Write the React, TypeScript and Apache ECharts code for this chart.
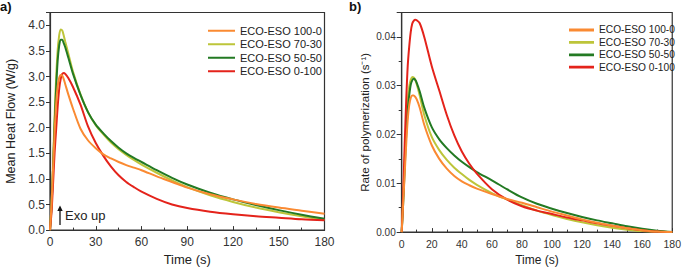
import React, { useEffect, useRef } from "react";
import * as echarts from "echarts";

const seriesNames = ["ECO-ESO 100-0", "ECO-ESO 70-30", "ECO-ESO 50-50", "ECO-ESO 0-100"];
const colors = ["#FA8A32", "#BDC53A", "#237A23", "#E4231B"];

// Panel a) Mean heat flow (W/g)
const timeA = [0, 1, 2, 3, 4, 5, 6, 7, 8, 9, 10, 12, 15, 20, 25, 30, 35, 40, 45, 50, 55, 60, 70, 80, 90, 105, 120, 135, 150, 165, 180];
const heat100_0 = [0, 0.5, 1.2, 1.9, 2.45, 2.8, 2.97, 3.03, 3.02, 2.95, 2.85, 2.65, 2.38, 1.98, 1.75, 1.6, 1.48, 1.4, 1.33, 1.27, 1.22, 1.17, 1.05, 0.94, 0.83, 0.7, 0.6, 0.51, 0.44, 0.38, 0.32];
const heat70_30 = [0, 0.5, 1.3, 2.2, 2.95, 3.5, 3.8, 3.92, 3.9, 3.8, 3.68, 3.45, 3.1, 2.65, 2.3, 2.05, 1.87, 1.71, 1.58, 1.47, 1.37, 1.28, 1.12, 0.97, 0.84, 0.68, 0.55, 0.44, 0.35, 0.27, 0.2];
const heat50_50 = [0, 0.45, 1.2, 2.05, 2.75, 3.3, 3.6, 3.72, 3.72, 3.65, 3.57, 3.37, 3.06, 2.64, 2.3, 2.06, 1.89, 1.74, 1.61, 1.5, 1.41, 1.33, 1.17, 1.02, 0.89, 0.73, 0.6, 0.49, 0.39, 0.3, 0.22];
const heat0_100 = [0, 0.35, 0.9, 1.5, 1.95, 2.4, 2.75, 2.95, 3.05, 3.07, 3.05, 2.97, 2.8, 2.45, 2.02, 1.7, 1.45, 1.24, 1.07, 0.94, 0.84, 0.75, 0.61, 0.5, 0.43, 0.36, 0.31, 0.27, 0.24, 0.21, 0.19];

// Panel b) Rate of polymerization (1/s)
const timeB = [0, 1, 2, 3, 4, 5, 6, 7, 8, 9, 10, 12, 15, 20, 25, 30, 35, 40, 45, 50, 60, 70, 80, 90, 100, 110, 120, 130, 140, 150, 160, 170, 180];
const rate100_0 = [0, 0.006, 0.012, 0.018, 0.023, 0.026, 0.0275, 0.028, 0.028, 0.0277, 0.0272, 0.0255, 0.022, 0.0178, 0.015, 0.013, 0.0115, 0.0104, 0.0096, 0.0089, 0.0078, 0.0068, 0.006, 0.0051, 0.0042, 0.0034, 0.0026, 0.0019, 0.0013, 0.0008, 0.0004, 0.0001, 0];
const rate70_30 = [0, 0.007, 0.015, 0.022, 0.027, 0.0298, 0.0312, 0.0318, 0.0317, 0.0312, 0.0303, 0.028, 0.024, 0.0195, 0.0168, 0.0148, 0.0132, 0.0119, 0.0107, 0.0097, 0.008, 0.0067, 0.0055, 0.0044, 0.0035, 0.0027, 0.002, 0.0014, 0.0009, 0.0005, 0.0002, 0.0001, 0];
const rate50_50 = [0, 0.006, 0.013, 0.02, 0.025, 0.028, 0.0302, 0.0311, 0.0314, 0.0312, 0.0306, 0.0288, 0.0255, 0.0215, 0.019, 0.0172, 0.0157, 0.0144, 0.0133, 0.0123, 0.0106, 0.0088, 0.0071, 0.0058, 0.0048, 0.0039, 0.0031, 0.0024, 0.0018, 0.0012, 0.0007, 0.0003, 0];
const rate0_100 = [0, 0.008, 0.018, 0.027, 0.034, 0.038, 0.041, 0.0427, 0.0433, 0.0435, 0.0434, 0.0428, 0.04, 0.034, 0.029, 0.024, 0.0198, 0.0165, 0.014, 0.012, 0.0088, 0.0067, 0.0053, 0.0044, 0.0037, 0.003, 0.0024, 0.0018, 0.0013, 0.0008, 0.0004, 0.0001, 0];

const heatSeries = [heat100_0, heat70_30, heat50_50, heat0_100];
const rateSeries = [rate100_0, rate70_30, rate50_50, rate0_100];

const FONT = "Liberation Sans, Arial, sans-serif";

// thin line legend icon: bounding box 27 x 13.5 with a 2px strip in the middle
const ICON_A = "path://M0,0 L0.01,0 L0.01,0.01 Z M0,5.75 L27,5.75 L27,7.75 L0,7.75 Z M26.99,13.49 L27,13.5 L26.99,13.5 Z";
const ICON_B = "path://M0,0 L0.01,0 L0.01,0.01 Z M0,4.8 L25,4.8 L25,7.6 L0,7.6 Z M24.99,12.39 L25,12.4 L24.99,12.4 Z";

function pairs(t: number[], v: number[]) {
  return t.map((x, i) => [x, v[i]]);
}

export default function App() {
  const ref = useRef<HTMLDivElement>(null);
  useEffect(() => {
    if (!ref.current) return;
    const chart = echarts.init(ref.current, undefined, { renderer: "svg" });
    const axisCommon = {
      axisLine: { show: true, onZero: false, lineStyle: { color: "#333", width: 1.2 } },
      splitLine: { show: false },
      axisLabel: { color: "#333", fontFamily: FONT },
      nameTextStyle: { color: "#222", fontFamily: FONT },
    };
    const series: any[] = [];
    heatSeries.forEach((v, i) => {
      series.push({
        type: "line",
        name: seriesNames[i],
        xAxisIndex: 0,
        yAxisIndex: 0,
        data: pairs(timeA, v),
        symbol: "none",
        showSymbol: false,
        smooth: 0.3,
        lineStyle: { color: colors[i], width: 2 },
        itemStyle: { color: colors[i] },
        z: i === 0 ? 6 : 5,
      });
    });
    rateSeries.forEach((v, i) => {
      series.push({
        type: "line",
        name: seriesNames[i] + " ",
        xAxisIndex: 1,
        yAxisIndex: 1,
        data: pairs(timeB, v),
        symbol: "none",
        showSymbol: false,
        smooth: 0.3,
        lineStyle: { color: colors[i], width: 2 },
        itemStyle: { color: colors[i] },
        z: i === 0 ? 6 : 5,
      });
    });
    chart.setOption({
      animation: false,
      backgroundColor: "#fff",
      textStyle: { fontFamily: FONT },
      grid: [
        { left: 50, top: 12.5, width: 274.5, height: 221, show: true, borderColor: "#333", borderWidth: 1.2, backgroundColor: "transparent" },
        { left: 401.7, top: 12.5, width: 272.6, height: 221, show: true, borderColor: "#333", borderWidth: 1.2, backgroundColor: "transparent" },
      ],
      xAxis: [
        {
          ...axisCommon,
          type: "value",
          gridIndex: 0,
          min: 0,
          max: 180,
          interval: 30,
          name: "Time (s)",
          nameLocation: "middle",
          nameGap: 22,
          nameTextStyle: { ...axisCommon.nameTextStyle, fontSize: 13 },
          axisTick: { show: true, inside: true, length: 4, lineStyle: { color: "#333" } },
          minorTick: { show: true, splitNumber: 2, length: 2.5, lineStyle: { color: "#333" } },
          axisLabel: { ...axisCommon.axisLabel, fontSize: 12, margin: 6 },
        },
        {
          ...axisCommon,
          type: "value",
          gridIndex: 1,
          min: 0,
          max: 180,
          interval: 20,
          name: "Time (s)",
          nameLocation: "middle",
          nameGap: 20,
          nameTextStyle: { ...axisCommon.nameTextStyle, fontSize: 12 },
          axisTick: { show: true, inside: true, length: 4, lineStyle: { color: "#333" } },
          minorTick: { show: true, splitNumber: 2, length: 2.5, lineStyle: { color: "#333" } },
          axisLabel: { ...axisCommon.axisLabel, fontSize: 10.5, margin: 6 },
        },
      ],
      yAxis: [
        {
          ...axisCommon,
          type: "value",
          gridIndex: 0,
          min: 0,
          max: 4.25,
          interval: 0.5,
          name: "Mean Heat Flow (W/g)",
          nameLocation: "middle",
          nameGap: 33,
          nameTextStyle: { ...axisCommon.nameTextStyle, fontSize: 12.5 },
          axisTick: { show: true, inside: false, length: 4, lineStyle: { color: "#333" } },
          minorTick: { show: false },
          axisLabel: {
            ...axisCommon.axisLabel,
            fontSize: 12,
            margin: 5,
            formatter: (v: number) => (v > 4.01 ? "" : v.toFixed(1)),
          },
        },
        {
          ...axisCommon,
          type: "value",
          gridIndex: 1,
          min: 0,
          max: 0.045,
          interval: 0.01,
          name: "Rate of polymerization (s⁻¹)",
          nameLocation: "middle",
          nameGap: 31,
          nameTextStyle: { ...axisCommon.nameTextStyle, fontSize: 11.5 },
          axisTick: { show: true, inside: false, length: 5, lineStyle: { color: "#333" } },
          minorTick: { show: true, splitNumber: 2, length: 3, lineStyle: { color: "#333" } },
          axisLabel: {
            ...axisCommon.axisLabel,
            fontSize: 10,
            margin: 6,
            formatter: (v: number) => (v > 0.0401 ? "" : v.toFixed(2)),
          },
        },
      ],
      legend: [
        {
          data: seriesNames.map((n) => ({ name: n, icon: ICON_A })),
          orient: "vertical",
          left: 203,
          top: 19,
          itemWidth: 27,
          itemHeight: 13.5,
          itemGap: 0,
          textStyle: { fontSize: 11, color: "#222", fontFamily: FONT },
        },
        {
          data: seriesNames.map((s) => ({ name: s + " ", icon: ICON_B })),
          orient: "vertical",
          left: 564,
          top: 18.8,
          itemWidth: 25,
          itemHeight: 12.4,
          itemGap: 0,
          formatter: (n: string) => n.trim(),
          textStyle: { fontSize: 10.2, color: "#222", fontFamily: FONT },
        },
      ],
      graphic: [
        { type: "text", left: 0, top: 0, style: { text: "a)", font: "bold 13px " + FONT, fill: "#111" } },
        { type: "text", left: 349, top: 0, style: { text: "b)", font: "bold 13px " + FONT, fill: "#111" } },
        { type: "text", left: 65, top: 209, style: { text: "Exo up", font: "13px " + FONT, fill: "#222" } },
        { type: "line", shape: { x1: 60, y1: 225, x2: 60, y2: 209 }, style: { stroke: "#111", lineWidth: 1.3 } },
        { type: "polygon", shape: { points: [[57.3, 211], [62.7, 211], [60, 205.5]] }, style: { fill: "#111" } },
      ],
      series,
    });
    return () => chart.dispose();
  }, []);
  return (
    <div
      ref={ref}
      style={{ position: "fixed", left: 0, top: 0, width: 684, height: 271, background: "#fff" }}
    />
  );
}
